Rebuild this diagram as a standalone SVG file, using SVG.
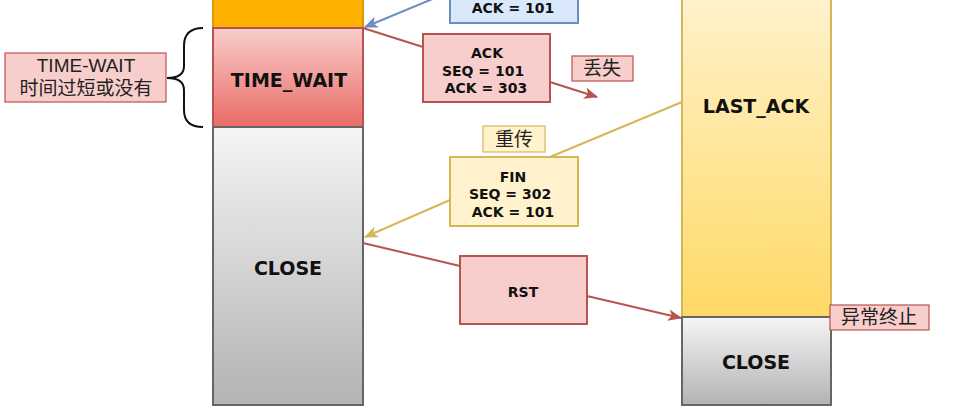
<svg xmlns="http://www.w3.org/2000/svg" width="974" height="418" viewBox="0 0 974 418">
<style>
.st{font-family:"DejaVu Sans","Liberation Sans",sans-serif;font-weight:bold;fill:#111;text-anchor:middle}
.big{font-size:19px}
.sm{font-size:14px}
.cn{font-family:"Liberation Sans","Noto Sans CJK SC",sans-serif;font-size:19px;fill:#222;text-anchor:middle}
.ln{fill:none;stroke-width:2}
</style>
<defs>
<linearGradient id="gRed" x1="0" y1="0" x2="0" y2="1"><stop offset="0" stop-color="#f8cecc"/><stop offset="1" stop-color="#ea6b66"/></linearGradient>
<linearGradient id="gGray" x1="0" y1="0" x2="0" y2="1"><stop offset="0" stop-color="#f5f5f5"/><stop offset="1" stop-color="#b3b3b3"/></linearGradient>
<linearGradient id="gYel" x1="0" y1="0" x2="0" y2="1"><stop offset="0" stop-color="#fff2cc"/><stop offset="1" stop-color="#ffd966"/></linearGradient>
<marker id="aBlue" viewBox="0 0 12 10" refX="11" refY="5" markerWidth="14" markerHeight="12" markerUnits="userSpaceOnUse" orient="auto"><path d="M0,0 L12,5 L0,10 L3,5 Z" fill="#6c8ebf"/></marker>
<marker id="aRed" viewBox="0 0 12 10" refX="11" refY="5" markerWidth="14" markerHeight="12" markerUnits="userSpaceOnUse" orient="auto"><path d="M0,0 L12,5 L0,10 L3,5 Z" fill="#b85450"/></marker>
<marker id="aYel" viewBox="0 0 12 10" refX="11" refY="5" markerWidth="14" markerHeight="12" markerUnits="userSpaceOnUse" orient="auto"><path d="M0,0 L12,5 L0,10 L3,5 Z" fill="#d6b656"/></marker>
</defs>
<rect width="974" height="418" fill="#ffffff"/>

<g id="connectors">
<line class="ln" x1="447" y1="-7" x2="365" y2="27" stroke="#6c8ebf" marker-end="url(#aBlue)"/>
<line class="ln" x1="363" y1="28" x2="423" y2="47" stroke="#b85450"/>
<line class="ln" x1="550" y1="82" x2="597" y2="97" stroke="#b85450" marker-end="url(#aRed)"/>
<line class="ln" x1="682" y1="102" x2="550" y2="157" stroke="#d6b656"/>
<line class="ln" x1="450" y1="200" x2="365" y2="237" stroke="#d6b656" marker-end="url(#aYel)"/>
<line class="ln" x1="363" y1="243" x2="460" y2="266" stroke="#b85450"/>
<line class="ln" x1="587" y1="296" x2="681" y2="318" stroke="#b85450" marker-end="url(#aRed)"/>
<path class="ln" d="M203,28 Q184,28 184,46 L184,66 Q184,78 167,78 Q184,78 184,90 L184,110 Q184,127 203,127" stroke="#111"/>
</g>

<g id="client-prev"><rect x="213" y="-3" width="150" height="31" fill="#ffb000" stroke="#d79b00" stroke-width="2"/></g>
<g id="time-wait"><rect x="213" y="28" width="150" height="99" fill="url(#gRed)" stroke="#b85450" stroke-width="2"/><text class="st big" x="289" y="87">TIME_WAIT</text></g>
<g id="client-close"><rect x="213" y="127" width="150" height="278" fill="url(#gGray)" stroke="#666666" stroke-width="2"/><text class="st big" x="288" y="275">CLOSE</text></g>

<g id="last-ack"><rect x="682" y="-3" width="149" height="320" fill="url(#gYel)" stroke="#d6b656" stroke-width="2"/><text class="st big" x="756" y="113">LAST_ACK</text></g>
<g id="server-close"><rect x="682" y="317" width="149" height="88" fill="url(#gGray)" stroke="#666666" stroke-width="2"/><text class="st big" x="756" y="369">CLOSE</text></g>

<g id="msg-ack-blue"><rect x="450" y="-10" width="128" height="33" fill="#dae8fc" stroke="#6c8ebf" stroke-width="2"/><text class="st sm" x="513" y="13">ACK = 101</text></g>
<g id="msg-ack-red"><rect x="423" y="34" width="127" height="68" fill="#f8cecc" stroke="#b85450" stroke-width="2"/>
<text class="st sm" x="487" y="58">ACK</text><text class="st sm" x="483" y="76">SEQ = 101</text><text class="st sm" x="486" y="93">ACK = 303</text></g>
<g id="msg-fin"><rect x="450" y="157" width="128" height="69" fill="#fff2cc" stroke="#d6b656" stroke-width="2"/>
<text class="st sm" x="513" y="182">FIN</text><text class="st sm" x="510" y="199">SEQ = 302</text><text class="st sm" x="513" y="217">ACK = 101</text></g>
<g id="msg-rst"><rect x="460" y="256" width="127" height="68" fill="#f8cecc" stroke="#b85450" stroke-width="2"/><text class="st sm" x="523" y="297">RST</text></g>

<g id="label-timewait"><rect x="5" y="53" width="161" height="49" fill="#f8cecc" stroke="#b85450" stroke-width="1.2"/>
<text class="cn" x="86" y="72">TIME-WAIT</text><text class="cn" x="86" y="95">时间过短或没有</text></g>
<g id="label-lost"><rect x="572" y="56" width="61" height="25" fill="#f8cecc" stroke="#b85450" stroke-width="1.2"/><text class="cn" x="602" y="75">丢失</text></g>
<g id="label-retrans"><rect x="483" y="126" width="62" height="26" fill="#fff2cc" stroke="#d6b656" stroke-width="1.2"/><text class="cn" x="514" y="146">重传</text></g>
<g id="label-abort"><rect x="830" y="305" width="99" height="25" fill="#f8cecc" stroke="#b85450" stroke-width="1.2"/><text class="cn" x="879" y="324">异常终止</text></g>
</svg>
